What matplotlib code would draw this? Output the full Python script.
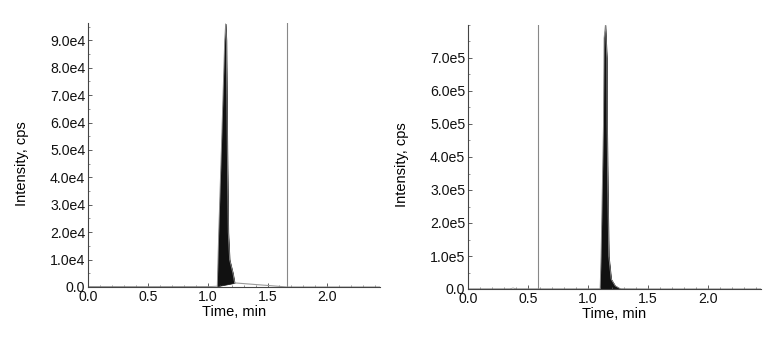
import matplotlib
matplotlib.use('Agg')
import matplotlib.pyplot as plt
from matplotlib.ticker import MultipleLocator

plt.rcParams['font.family'] = ['Liberation Sans', 'DejaVu Sans']

# left chromatogram (time in min, intensity in cps)
t_left = [0.0, 0.5, 1.0, 1.080, 1.092, 1.114, 1.142, 1.150, 1.156, 1.164, 1.172, 1.183, 1.211, 1.225]
i_left = [150, 120, 150, 300, 20000, 50000, 90000, 96000, 90000, 50000, 20000, 10000, 5000, 1500]
t_left_tail = [1.225, 1.40, 1.55, 1.66, 2.0, 2.45]
i_left_tail = [1500, 900, 400, 0, 0, 0]
marker_left = 1.66

# right chromatogram
t_right = [0.0, 0.35, 0.375, 0.40, 1.0, 1.10, 1.108, 1.128, 1.133, 1.144, 1.156, 1.158, 1.164, 1.172, 1.192, 1.225, 1.267, 1.5, 2.45]
i_right = [500, 600, 3000, 600, 500, 800, 100000, 500000, 760000, 800000, 700000, 500000, 300000, 100000, 30000, 10000, 1000, 300, 200]
marker_right = 0.58

yticks_left = [0, 1e4, 2e4, 3e4, 4e4, 5e4, 6e4, 7e4, 8e4, 9e4]
ylabels_left = ['0.0', '1.0e4', '2.0e4', '3.0e4', '4.0e4', '5.0e4', '6.0e4', '7.0e4', '8.0e4', '9.0e4']
yticks_right = [0, 1e5, 2e5, 3e5, 4e5, 5e5, 6e5, 7e5]
ylabels_right = ['0.0', '1.0e5', '2.0e5', '3.0e5', '4.0e5', '5.0e5', '6.0e5', '7.0e5']
xticks = [0.0, 0.5, 1.0, 1.5, 2.0]
xlabels = ['0.0', '0.5', '1.0', '1.5', '2.0']

fig = plt.figure(figsize=(7.67, 3.37), dpi=100)
ax1 = fig.add_axes([88/767, 1-287/337, 292/767, 264/337])
ax2 = fig.add_axes([468/767, 1-289/337, 293/767, 264/337])


def style(ax, ymax, yt, yl, ylab_y):
    ax.set_xlim(0, 2.44)
    ax.set_ylim(0, ymax)
    for s in ['top', 'right']:
        ax.spines[s].set_visible(False)
    for s in ['left', 'bottom']:
        ax.spines[s].set_color('#444444')
        ax.spines[s].set_linewidth(0.8)
    ax.set_xticks(xticks)
    ax.set_xticklabels(xlabels)
    ax.set_yticks(yt)
    ax.set_yticklabels(yl)
    ax.xaxis.set_minor_locator(MultipleLocator(0.1))
    ax.yaxis.set_minor_locator(MultipleLocator(yt[1] / 2))
    ax.tick_params(direction='in', length=3, width=0.6, colors='#444444', labelcolor='#111111',
                   labelsize=10.2, pad=2)
    ax.tick_params(which='minor', direction='in', length=1.5, width=0.5, colors='#666666')
    ax.set_xlabel('Time, min', fontsize=10.5, labelpad=1)
    ax.set_ylabel('Intensity, cps', fontsize=10.5)
    ax.yaxis.set_label_coords(-0.202, ylab_y)


# left panel
ax1.plot(t_left_tail, i_left_tail, color='#999999', lw=0.8)
ax1.plot(t_left, i_left, color='#888888', lw=0.6)
pk = slice(3, None)
x0, x1 = t_left[3], t_left[-1]
y0, y1 = i_left[3], i_left[-1]
base = [y0 + (y1 - y0) * (t - x0) / (x1 - x0) for t in t_left[pk]]
ax1.fill_between(t_left[pk], base, i_left[pk], color='#111111', lw=0.5)
ax1.axvline(marker_left, color='#888888', lw=0.8)
style(ax1, 96300, yticks_left, ylabels_left, 0.468)

# right panel
ax2.plot(t_right, i_right, color='#888888', lw=0.6)
ax2.fill_between(t_right[5:17], 0, i_right[5:17], color='#111111', lw=0.5)
ax2.axvline(marker_right, color='#888888', lw=0.8)
style(ax2, 800000, yticks_right, ylabels_right, 0.473)

fig.savefig('out.png', dpi=100)
